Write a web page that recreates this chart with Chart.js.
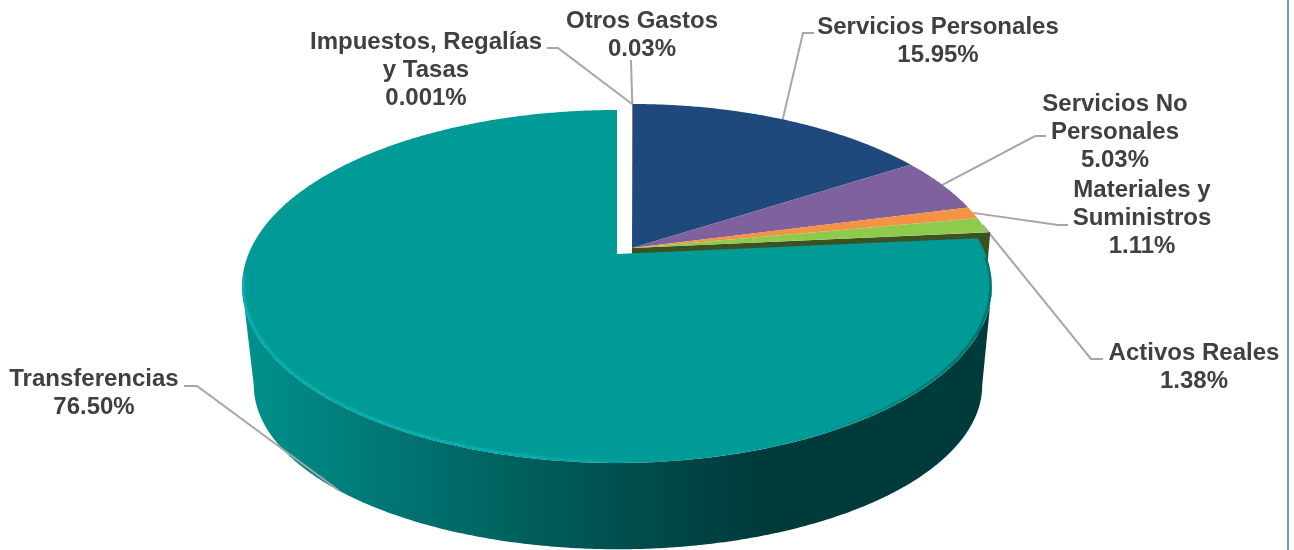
<!DOCTYPE html>
<html>
<head>
<meta charset="utf-8">
<title>Gastos</title>
<script src="https://cdn.jsdelivr.net/npm/chart.js@4/dist/chart.umd.min.js"></script>
<style>
    html, body { margin: 0; padding: 0; background: #fff; }
    #gastosChart { display: block; }
</style>
</head>
<body>
<canvas id="gastosChart" width="1294" height="550"></canvas>
<script>
const categories = ['Impuestos, Regalías y Tasas', 'Otros Gastos', 'Servicios Personales', 'Servicios No Personales', 'Materiales y Suministros', 'Activos Reales', 'Transferencias'];
const values = [0.001, 0.03, 15.95, 5.03, 1.11, 1.38, 76.50];
const valueLabels = ['0.001%', '0.03%', '15.95%', '5.03%', '1.11%', '1.38%', '76.50%'];
const nameLines = [['Impuestos, Regalías', 'y Tasas'], ['Otros Gastos'], ['Servicios Personales'], ['Servicios No', 'Personales'], ['Materiales y', 'Suministros'], ['Activos Reales'], ['Transferencias']];
const sliceColors = ['#4f81bd', '#c0504d', '#1f497d', '#7f619e', '#f39343', '#8ecb4c', '#009a97'];

// label anchors: centre x and first baseline, then the bent leader points
const labelLayout = [
    { x: 426, y: 49, leader: [[558, 48], [547, 48]] },
    { x: 642, y: 28, leader: [[631, 60]] },
    { x: 938, y: 34, leader: [[803, 33], [814, 33]] },
    { x: 1115, y: 111, leader: [[1035, 136], [1046, 136]] },
    { x: 1142, y: 197, leader: [[1058, 225], [1068, 225]] },
    { x: 1194, y: 360, leader: [[1091, 359], [1103, 359]] },
    { x: 94, y: 386, leader: [[197, 386], [184, 386]] }
];

// the pie is tilted with perspective, so the disc is not a plain ellipse around its apex
const TILT = 0.184;
const mainDisc = { x: 632, y: 248, rx: 363, ry: 170.5 };
const mainFloor = { x: 632, y: 349, rx: 357, ry: 158.5 };
const tealDisc = { x: 617, y: 254, rx: 368.5, ry: 170.5 };
const tealFloor = { x: 618, y: 355, rx: 358, ry: 158.5 };

const project = (disc, angle) => {
    const d = 1 - TILT * Math.sin(angle);
    return [disc.x + disc.rx * Math.cos(angle) / d, disc.y + disc.ry * Math.sin(angle) / d];
};

const traceRim = (ctx, disc, from, to) => {
    const steps = Math.max(2, Math.ceil(Math.abs(to - from) * 120));
    for (let i = 0; i <= steps; i++) {
        const p = project(disc, from + (to - from) * i / steps);
        ctx.lineTo(p[0], p[1]);
    }
};

const drawSlice = (ctx, disc, arc) => {
    ctx.beginPath();
    ctx.moveTo(disc.x, disc.y);
    traceRim(ctx, disc, arc.startAngle, arc.endAngle);
    ctx.closePath();
    ctx.fillStyle = arc.options.backgroundColor;
    ctx.fill();
};

const drawLeader = (ctx, arc, i, disc) => {
    const start = project(disc, (arc.startAngle + arc.endAngle) / 2);
    ctx.strokeStyle = '#a6a6a6';
    ctx.lineWidth = 2;
    ctx.beginPath();
    ctx.moveTo(start[0], start[1]);
    labelLayout[i].leader.forEach(p => ctx.lineTo(p[0], p[1]));
    ctx.stroke();
};

const drawLabels = (ctx) => {
    ctx.fillStyle = '#404040';
    ctx.font = 'bold 24px "Liberation Sans"';
    ctx.textAlign = 'center';
    ctx.textBaseline = 'alphabetic';
    categories.forEach((name, i) => {
        const lines = [...nameLines[i], valueLabels[i]];
        lines.forEach((line, n) => {
            ctx.fillText(line, labelLayout[i].x, labelLayout[i].y + n * 28);
        });
    });
};

const pie3d = {
    id: 'pie3d',
    // the library works out the angles, this only paints them on the tilted disc
    beforeDatasetDraw(chart) {
        const ctx = chart.ctx;
        const arcs = chart.getDatasetMeta(0).data;
        const teal = arcs[arcs.length - 1];
        const back = arcs[arcs.length - 2];
        const tangent = Math.asin(TILT);

        ctx.save();
        arcs.slice(0, -1).forEach((arc, i) => drawLeader(ctx, arc, i, mainDisc));

        // dark side face left by the slice that was pulled out
        const edge = back.endAngle;
        const rimTop = project(mainDisc, edge);
        const rimLow = project(mainFloor, edge);
        ctx.beginPath();
        ctx.moveTo(mainDisc.x, mainDisc.y);
        ctx.lineTo(rimTop[0] + 3, rimTop[1]);
        ctx.lineTo(rimLow[0], rimLow[1]);
        ctx.lineTo(mainFloor.x, mainFloor.y);
        ctx.closePath();
        ctx.fillStyle = '#3d5223';
        ctx.fill();

        arcs.slice(0, -1).forEach(arc => drawSlice(ctx, mainDisc, arc));

        // wall of the big slice
        const wall = ctx.createLinearGradient(250, 0, 990, 0);
        wall.addColorStop(0, '#00908d');
        wall.addColorStop(0.2, '#007472');
        wall.addColorStop(0.35, '#00625f');
        wall.addColorStop(0.5, '#004f50');
        wall.addColorStop(0.68, '#003b3b');
        wall.addColorStop(1, '#003b3b');
        ctx.beginPath();
        traceRim(ctx, tealDisc, tangent, Math.PI - tangent);
        traceRim(ctx, tealFloor, Math.PI - tangent, tangent);
        ctx.closePath();
        ctx.fillStyle = wall;
        ctx.fill();

        // this leader runs along the outer edge of the wall
        drawLeader(ctx, teal, arcs.length - 1, tealFloor);

        drawSlice(ctx, tealDisc, teal);

        // bevel on the rim, light on the left and dark on the right
        const inner = { x: tealDisc.x, y: tealDisc.y, rx: tealDisc.rx - 1.5, ry: tealDisc.ry - 1.5 };
        const light = ctx.createLinearGradient(241, 0, 640, 0);
        light.addColorStop(0, 'rgba(0,180,180,0.8)');
        light.addColorStop(0.7, 'rgba(0,180,180,0.85)');
        light.addColorStop(1, 'rgba(0,180,180,0)');
        ctx.beginPath();
        traceRim(ctx, inner, 1.2, Math.PI - 0.12);
        ctx.strokeStyle = light;
        ctx.lineWidth = 2.5;
        ctx.stroke();

        const dark = ctx.createLinearGradient(820, 0, 960, 0);
        dark.addColorStop(0, 'rgba(0,60,60,0)');
        dark.addColorStop(1, 'rgba(0,60,60,0.4)');
        ctx.beginPath();
        traceRim(ctx, inner, 0.02, 1.1);
        ctx.strokeStyle = dark;
        ctx.lineWidth = 2.5;
        ctx.stroke();

        ctx.restore();
        return false;
    },
    afterDraw(chart) {
        const ctx = chart.ctx;
        ctx.save();
        drawLabels(ctx);
        // frame of the picture, only its right side is inside the crop
        ctx.fillStyle = '#6f97d1';
        ctx.fillRect(1287, 0, 2, 550);
        ctx.restore();
    }
};

window.onload = () => {
    new Chart(document.getElementById('gastosChart').getContext('2d'), {
        type: 'pie',
        data: {
            labels: categories,
            datasets: [{
                data: values,
                backgroundColor: sliceColors,
                borderWidth: 0
            }]
        },
        options: {
            responsive: false,
            animation: false,
            plugins: {
                legend: { display: false },
                tooltip: { enabled: false }
            }
        },
        plugins: [pie3d]
    });
};
</script>
</body>
</html>
